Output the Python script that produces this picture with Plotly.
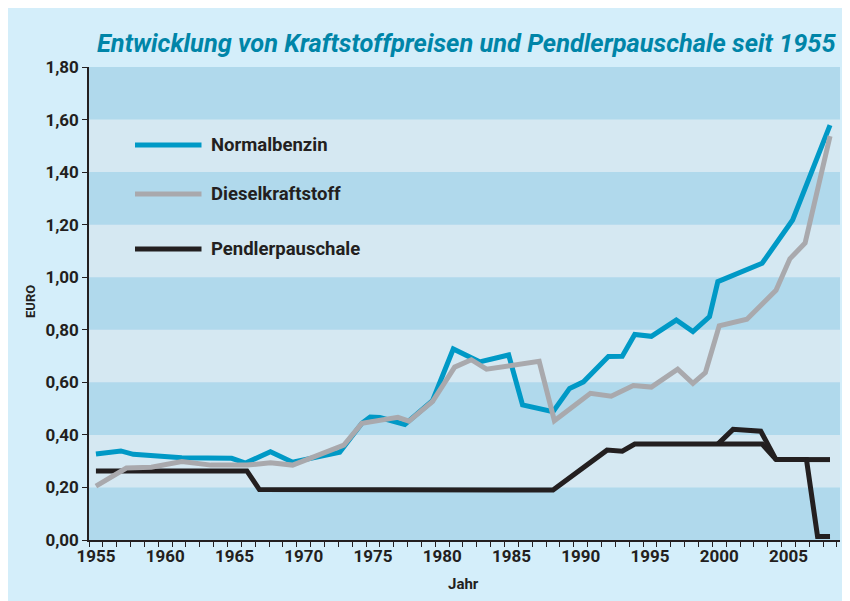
import plotly.graph_objects as go

# ---------------- data ----------------
benzin_years = [1955.0, 1956.8, 1957.7, 1959.0, 1961.2, 1964.8, 1965.8, 1967.6, 1969.2,
                1972.6, 1974.2, 1974.8, 1975.5, 1977.3, 1979.3, 1980.8, 1982.7, 1984.8,
                1985.8, 1988.0, 1989.2, 1990.2, 1992.0, 1993.0, 1993.9, 1995.1, 1996.9,
                1998.1, 1999.3, 1999.9, 2003.1, 2005.3, 2008.0]
benzin_values = [0.327, 0.339, 0.326, 0.321, 0.313, 0.311, 0.293, 0.336, 0.296,
                 0.334, 0.444, 0.468, 0.466, 0.440, 0.530, 0.727, 0.678, 0.704,
                 0.514, 0.488, 0.577, 0.602, 0.698, 0.699, 0.782, 0.775, 0.837,
                 0.793, 0.850, 0.983, 1.053, 1.218, 1.579]

diesel_years = [1955.0, 1957.2, 1959.0, 1961.2, 1963.3, 1964.5, 1965.9, 1967.6, 1969.2,
                1972.9, 1974.2, 1976.8, 1977.6, 1979.3, 1980.9, 1982.1, 1983.2, 1987.0,
                1988.1, 1990.7, 1992.2, 1993.8, 1995.1, 1997.0, 1998.1, 1999.0, 2000.0,
                2002.0, 2004.1, 2005.1, 2006.2, 2008.0]
diesel_values = [0.205, 0.274, 0.277, 0.299, 0.285, 0.284, 0.285, 0.294, 0.285,
                 0.361, 0.444, 0.467, 0.452, 0.527, 0.658, 0.686, 0.650, 0.680,
                 0.454, 0.558, 0.547, 0.588, 0.582, 0.650, 0.596, 0.637, 0.815,
                 0.840, 0.950, 1.070, 1.130, 1.537]

pendler_years = [1955.0, 1965.9, 1966.8, 1988.0, 1991.9, 1993.0, 1993.9, 2003.1, 2004.1,
                 2006.3, 2007.1, 2008.0]
pendler_values = [0.263, 0.263, 0.192, 0.190, 0.342, 0.338, 0.365, 0.365, 0.306,
                  0.306, 0.013, 0.013]

# second Pendlerpauschale branch (distance-dependent rates), gaps as None
pendler2_years = [1999.9, 2001.0, 2003.0, 2004.1, None, 2006.2, 2008.0]
pendler2_values = [0.365, 0.421, 0.414, 0.306, None, 0.306, 0.306]

series_names = ["Normalbenzin", "Dieselkraftstoff", "Pendlerpauschale"]
x_tick_years = [1955, 1960, 1965, 1970, 1975, 1980, 1985, 1990, 1995, 2000, 2005]
y_ticks = [0.0, 0.2, 0.4, 0.6, 0.8, 1.0, 1.2, 1.4, 1.6, 1.8]

# ---------------- styling ----------------
C_BLUE = "#0099C6"
C_GRAY = "#A9A9AD"
C_BLACK = "#231F20"
C_PANEL = "#D4EEFA"
C_BAND_DARK = "#B0D9EC"
C_BAND_LIGHT = "#D5E8F2"
C_TITLE = "#0085A8"
FONT = "Roboto, Liberation Sans, sans-serif"

W, H = 850, 601
OFF = 8  # page body margin in the screenshot
# plot area in screenshot pixels: x 89..840, y 67..540
L, T = 89 - OFF, 67 - OFF
R = W - (840 - OFF)
B = H - (540 - OFF)
PW, PH = W - L - R, H - T - B


def px(xpix):  # screenshot x pixel -> paper x
    return (xpix - OFF - L) / PW


def py(ypix):  # screenshot y pixel -> paper y
    return (H - B - (ypix - OFF)) / PH


fig = go.Figure()

fig.add_trace(go.Scatter(x=pendler_years, y=pendler_values, mode="lines",
                         line=dict(color=C_BLACK, width=5), hoverinfo="skip",
                         name=series_names[2]))
fig.add_trace(go.Scatter(x=pendler2_years, y=pendler2_values, mode="lines",
                         line=dict(color=C_BLACK, width=5), hoverinfo="skip",
                         connectgaps=False, name=series_names[2] + " (2)"))
fig.add_trace(go.Scatter(x=benzin_years, y=benzin_values, mode="lines",
                         line=dict(color=C_BLUE, width=5), hoverinfo="skip",
                         name=series_names[0]))
fig.add_trace(go.Scatter(x=diesel_years, y=diesel_values, mode="lines",
                         line=dict(color=C_GRAY, width=5), hoverinfo="skip",
                         name=series_names[1]))

shapes = []
# alternating horizontal bands
for i in range(len(y_ticks) - 1):
    if i % 2 == 0:
        shapes.append(dict(type="rect", xref="paper", yref="y", x0=0, x1=1,
                           y0=y_ticks[i], y1=y_ticks[i + 1], fillcolor=C_BAND_DARK,
                           line=dict(width=0), layer="below"))

# manual legend
legend_rows = [(series_names[0], C_BLUE, 145), (series_names[1], C_GRAY, 194),
               (series_names[2], C_BLACK, 249)]
annotations = []
for name, col, yp in legend_rows:
    shapes.append(dict(type="line", xref="paper", yref="paper", x0=px(135), x1=px(201.5),
                       y0=py(yp), y1=py(yp), line=dict(color=col, width=5)))
    annotations.append(dict(text=name, xref="paper", yref="paper", x=px(209), y=py(yp),
                            xanchor="left", yanchor="middle", showarrow=False,
                            font=dict(family=FONT, size=18.5, color=C_BLACK, weight="bold")))

annotations.append(dict(text="Jahr", xref="paper", yref="paper", x=px(463), y=py(584),
                        xanchor="center", yanchor="middle", showarrow=False,
                        font=dict(family=FONT, size=15, color=C_BLACK, weight="bold")))
annotations.append(dict(text="EURO", xref="paper", yref="paper", x=px(30), y=py(302),
                        xanchor="center", yanchor="middle", showarrow=False, textangle=-90,
                        font=dict(family=FONT, size=13, color=C_BLACK, weight="bold")))
annotations.append(dict(text="Entwicklung von Kraftstoffpreisen und Pendlerpauschale seit 1955",
                        xref="paper", yref="paper", x=px(838), y=py(43),
                        xanchor="right", yanchor="middle", showarrow=False,
                        font=dict(family=FONT, size=25.4, color=C_TITLE, weight="bold",
                                  style="italic")))

fig.update_layout(
    width=W, height=H,
    margin=dict(l=L, r=R, t=T, b=B),
    paper_bgcolor=C_PANEL,
    plot_bgcolor=C_BAND_LIGHT,
    separators=",.",
    showlegend=False,
    shapes=shapes,
    annotations=annotations,
    xaxis=dict(range=[1954.5, 2008.72], tickvals=x_tick_years,
               ticktext=[str(v) for v in x_tick_years], ticks="",
               showgrid=False, zeroline=False, showline=True, linecolor=C_BLACK, linewidth=1.5,
               tickfont=dict(family=FONT, size=17, color=C_BLACK, weight="bold"),
               minor=dict(ticks="outside", tick0=1954.5, dtick=1, ticklen=5,
                          tickcolor=C_BLACK, tickwidth=1.2, showgrid=False)),
    yaxis=dict(range=[0, 1.8], tickvals=y_ticks, tickformat=".2f", ticks="outside",
               ticklen=5, tickcolor=C_BLACK, tickwidth=1.2,
               showgrid=False, zeroline=False, showline=True, linecolor=C_BLACK, linewidth=1.5,
               tickfont=dict(family=FONT, size=17, color=C_BLACK, weight="bold")),
)

fig.write_html("out.html")
